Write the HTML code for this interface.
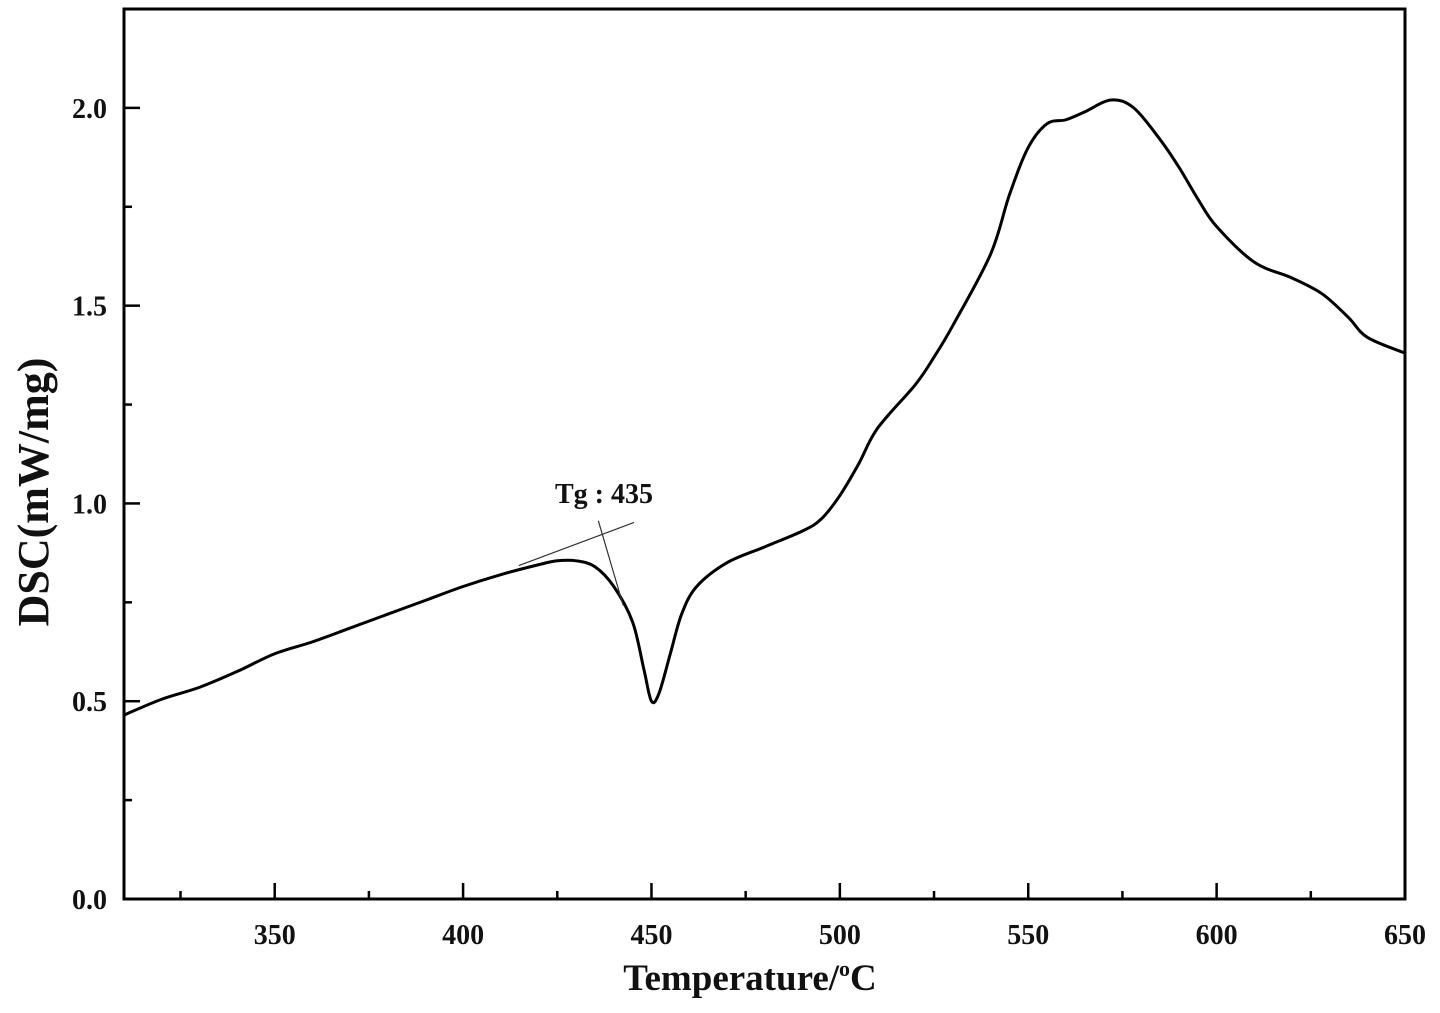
<!DOCTYPE html>
<html><head><meta charset="utf-8"><style>
body{margin:0;background:#fff;}
svg text{font-family:"Liberation Serif",serif;font-weight:bold;fill:#111;}
</style></head><body>
<svg id="chart" width="1440" height="1008" xmlns="http://www.w3.org/2000/svg"></svg>
<script>
const temps=[310,320,330,340,350,360,370,380,390,400,410,420,425,430,435,440,445,448,450,452,455,458,462,470,480,490,495,500,505,510,520,525,530,540,545,550,555,560,565,572,578,585,590,595,600,610,620,628,635,640,650];
const dscValues=[0.465,0.505,0.535,0.575,0.62,0.65,0.685,0.72,0.755,0.79,0.82,0.845,0.855,0.855,0.84,0.79,0.70,0.58,0.50,0.52,0.62,0.72,0.79,0.85,0.89,0.93,0.96,1.02,1.10,1.19,1.30,1.37,1.45,1.63,1.78,1.90,1.96,1.97,1.99,2.02,2.00,1.92,1.85,1.77,1.70,1.61,1.57,1.53,1.47,1.42,1.38];
const xTicks=[350,400,450,500,550,600,650];
const xMinor=[325,375,425,475,525,575,625];
const yTicks=[0.0,0.5,1.0,1.5,2.0];
const yMinor=[0.25,0.75,1.25,1.75];
const tangentBase=[[414.8,0.843],[445.4,0.952]];
const tangentSteep=[[435.9,0.956],[442.5,0.742]];
const L=124,R=1405,T=9,B=899,xMin=310,xMax=650,yMin=0,yMax=2.25;
const X=v=>L+(v-xMin)/(xMax-xMin)*(R-L);
const Y=v=>B-(v-yMin)/(yMax-yMin)*(B-T);
const svg=document.getElementById('chart');
const NS='http://www.w3.org/2000/svg';
function mk(tag,attrs,name,txt){const e=document.createElementNS(NS,tag);for(const k in attrs)e.setAttribute(k,attrs[k]);


if(txt!==undefined)e.textContent=txt;svg.appendChild(e);return e;}
mk('rect',{x:L,y:T,width:R-L,height:B-T,fill:'none',stroke:'#000','stroke-width':3},'plot-frame');
xTicks.forEach(v=>{mk('line',{x1:X(v),x2:X(v),y1:B,y2:B-16,stroke:'#000','stroke-width':2.5},'x-tick');
mk('text',{x:X(v),y:944,'text-anchor':'middle','font-size':28},'x-tick-label',String(v));});
xMinor.forEach(v=>mk('line',{x1:X(v),x2:X(v),y1:B,y2:B-8,stroke:'#000','stroke-width':2.5},'x-minor-tick'));
yTicks.forEach(v=>{mk('line',{x1:L,x2:L+16,y1:Y(v),y2:Y(v),stroke:'#000','stroke-width':2.5},'y-tick');
mk('text',{x:107,y:Y(v)+10,'text-anchor':'end','font-size':28},'y-tick-label',v.toFixed(1));});
yMinor.forEach(v=>mk('line',{x1:L,x2:L+8,y1:Y(v),y2:Y(v),stroke:'#000','stroke-width':2.5},'y-minor-tick'));
const pts=temps.map((t,i)=>[X(t),Y(dscValues[i])]);
let d='M'+pts[0][0]+','+pts[0][1];
for(let i=0;i<pts.length-1;i++){const p0=pts[Math.max(0,i-1)],p1=pts[i],p2=pts[i+1],p3=pts[Math.min(pts.length-1,i+2)];
const c1x=p1[0]+(p2[0]-p0[0])/6,c1y=p1[1]+(p2[1]-p0[1])/6,c2x=p2[0]-(p3[0]-p1[0])/6,c2y=p2[1]-(p3[1]-p1[1])/6;
d+=' C'+c1x+','+c1y+' '+c2x+','+c2y+' '+p2[0]+','+p2[1];}
mk('path',{d:d,fill:'none',stroke:'#000','stroke-width':3,'stroke-linejoin':'round'},'dsc-curve');
mk('line',{x1:X(tangentBase[0][0]),y1:Y(tangentBase[0][1]),x2:X(tangentBase[1][0]),y2:Y(tangentBase[1][1]),stroke:'#333','stroke-width':1.2},'baseline-tangent');
mk('line',{x1:X(tangentSteep[0][0]),y1:Y(tangentSteep[0][1]),x2:X(tangentSteep[1][0]),y2:Y(tangentSteep[1][1]),stroke:'#333','stroke-width':1.2},'onset-tangent');
mk('text',{x:555,y:503,'font-size':28},'tg-annotation','Tg : 435');
const xt=mk('text',{x:750,y:990,'text-anchor':'middle','font-size':37},'x-axis-title','Temperature/');
const sup=document.createElementNS(NS,'tspan');sup.setAttribute('font-size','22');sup.setAttribute('dy','-14');sup.textContent='o';xt.appendChild(sup);
const cc=document.createElementNS(NS,'tspan');cc.setAttribute('dy','14');cc.textContent='C';xt.appendChild(cc);
mk('text',{x:0,y:0,'text-anchor':'middle','font-size':44,transform:'translate(48,492) rotate(-90)'},'y-axis-title','DSC(mW/mg)');
</script>
</body></html>
